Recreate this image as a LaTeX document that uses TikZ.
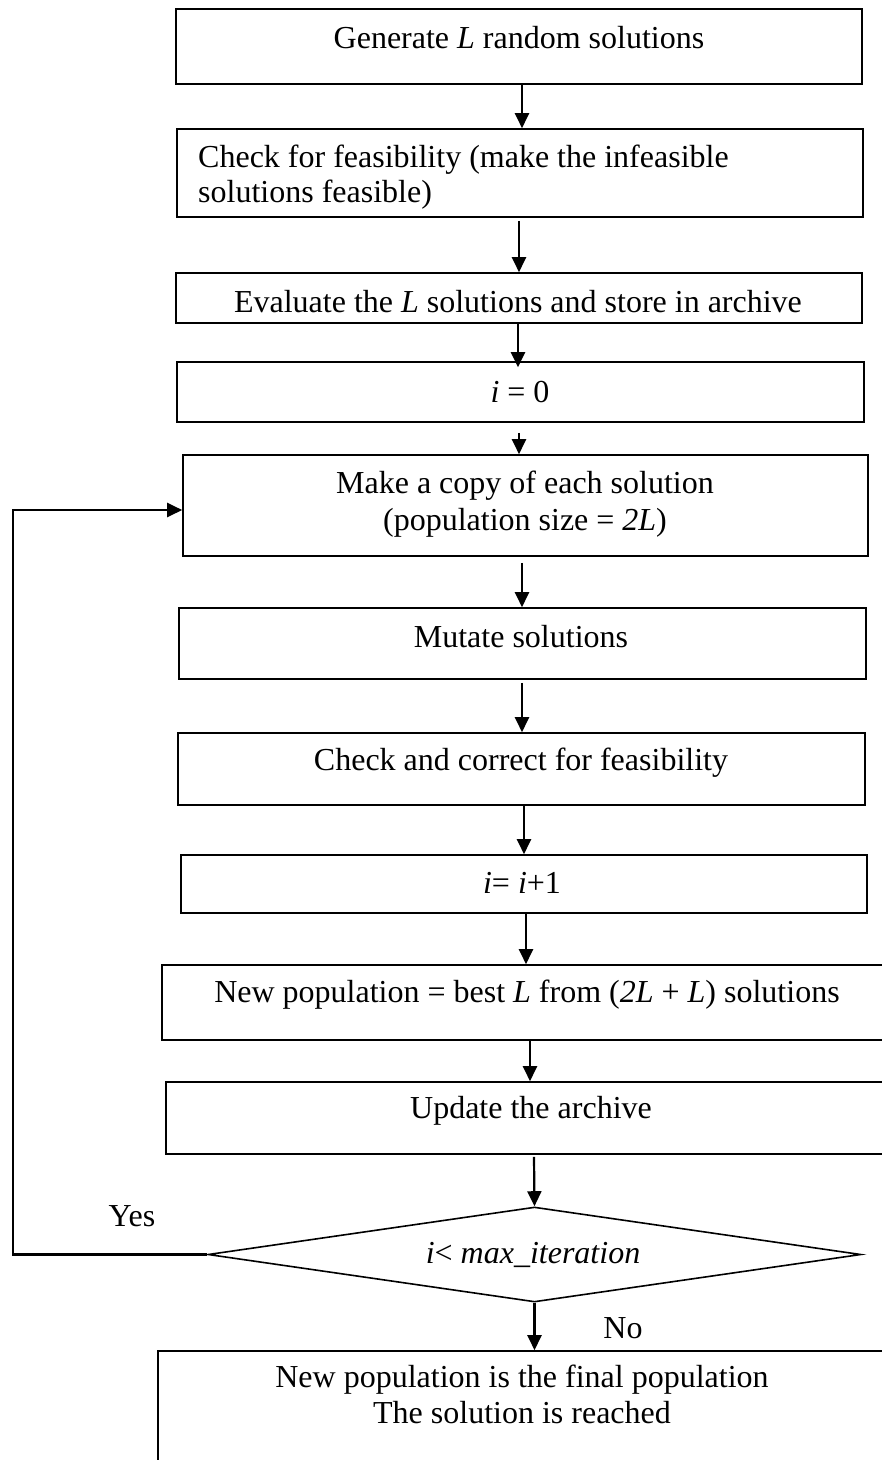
\documentclass[tikz,border=0pt]{standalone}
\usepackage{fontspec}
\setmainfont{Liberation Serif}
\usetikzlibrary{arrows.meta,shapes.geometric}
\begin{document}
\begin{tikzpicture}[x=1pt,y=-1pt,
  box/.style={draw, line width=1.6pt, rectangle, inner sep=0pt},
  dia/.style={draw, line width=1.6pt, diamond, inner sep=0pt},
  txt/.style={anchor=base, inner sep=0pt, font=\fontsize{32}{36}\selectfont},
  arr/.style={-{Triangle[length=15pt,width=14pt]}, line width=2.2pt}]
\clip (0,0) rectangle (882,1460);
\fill[white] (0,0) rectangle (882,1460);
% boxes
\node[box, minimum width=686pt, minimum height=75pt]  (b1) at (519,46.5) {};
\node[box, minimum width=686pt, minimum height=88pt]  (b2) at (520,173) {};
\node[box, minimum width=686pt, minimum height=50pt]  (b3) at (519,298) {};
\node[box, minimum width=687pt, minimum height=60pt]  (b4) at (520.5,392) {};
\node[box, minimum width=685pt, minimum height=101pt] (b5) at (525.5,505.5) {};
\node[box, minimum width=687pt, minimum height=71pt]  (b6) at (522.5,643.5) {};
\node[box, minimum width=687pt, minimum height=72pt]  (b7) at (521.5,769) {};
\node[box, minimum width=686pt, minimum height=58pt]  (b8) at (524,884) {};
\node[box, minimum width=738pt, minimum height=75pt]  (b9) at (531,1002.5) {};
\node[box, minimum width=734pt, minimum height=72pt]  (b10) at (533,1118) {};
\node[dia, minimum width=653pt, minimum height=95pt]  (d) at (534.5,1254.5) {};
\node[box, minimum width=742pt, minimum height=124pt] (b12) at (529,1413) {};
% texts
\node[txt] (t1) at (519,48) {Generate \textit{L} random solutions};
\node[txt, anchor=base west] (t2a) at (198,167) {Check for feasibility (make the infeasible};
\node[txt, anchor=base west] (t2b) at (198,202) {solutions feasible)};
\node[txt] (t3) at (518,312) {Evaluate the \textit{L} solutions and store in archive};
\node[txt] (t4) at (520,402) {\textit{i} = 0};
\node[txt] (t5a) at (525,493) {Make a copy of each solution};
\node[txt] (t5b) at (525,530) {(population size = \textit{2L})};
\node[txt] (t6) at (521,647) {Mutate solutions};
\node[txt] (t7) at (521,770) {Check and correct for feasibility};
\node[txt] (t8) at (522,893) {\textit{i}= \textit{i}+1};
\node[txt] (t9) at (527,1002) {New population = best \textit{L} from (\textit{2L} + \textit{L}) solutions};
\node[txt] (t10) at (531,1118) {Update the archive};
\node[txt] (t11) at (533,1263) {\textit{i}< \textit{max\_iteration}};
\node[txt] (t12a) at (522,1387) {New population is the final population};
\node[txt] (t12b) at (522,1423) {The solution is reached};
\node[txt] (yes) at (132,1226) {Yes};
\node[txt] (no) at (623,1338) {No};
% connectors
\draw[arr] ([xshift=3pt]b1.south) -- ([xshift=2pt]b2.north);
\draw[arr] ([xshift=-1pt,yshift=-3pt]b2.south) -- ([xshift=0pt]b3.north);
\draw[arr] ([xshift=-1pt]b3.south) -- ([xshift=-2.5pt,yshift=-6pt]b4.north);
\draw[arr] ([xshift=-1.5pt,yshift=-10pt]b4.south) -- ([xshift=-6.5pt]b5.north);
\draw[arr] ([xshift=-3.5pt,yshift=-6pt]b5.south) -- ([xshift=-0.5pt]b6.north);
\draw[arr] ([xshift=-0.5pt,yshift=-3pt]b6.south) -- ([xshift=0.5pt]b7.north);
\draw[arr] ([xshift=2.5pt]b7.south) -- ([xshift=0pt]b8.north);
\draw[arr] ([xshift=2pt]b8.south) -- ([xshift=-5pt]b9.north);
\draw[arr] ([xshift=-1pt]b9.south) -- ([xshift=-3pt]b10.north);
\draw[arr] ([xshift=1pt,yshift=-2pt]b10.south) -- (d.north);
\draw[arr] (d.south) -- ([xshift=5.5pt]b12.north);
\coordinate (fb1) at (13,1254.5);
\coordinate (fb2) at (13,510);
\draw[arr] (d.west) -- (fb1) -- (fb2) -- (fb2 -| b5.west);
\end{tikzpicture}
\end{document}
